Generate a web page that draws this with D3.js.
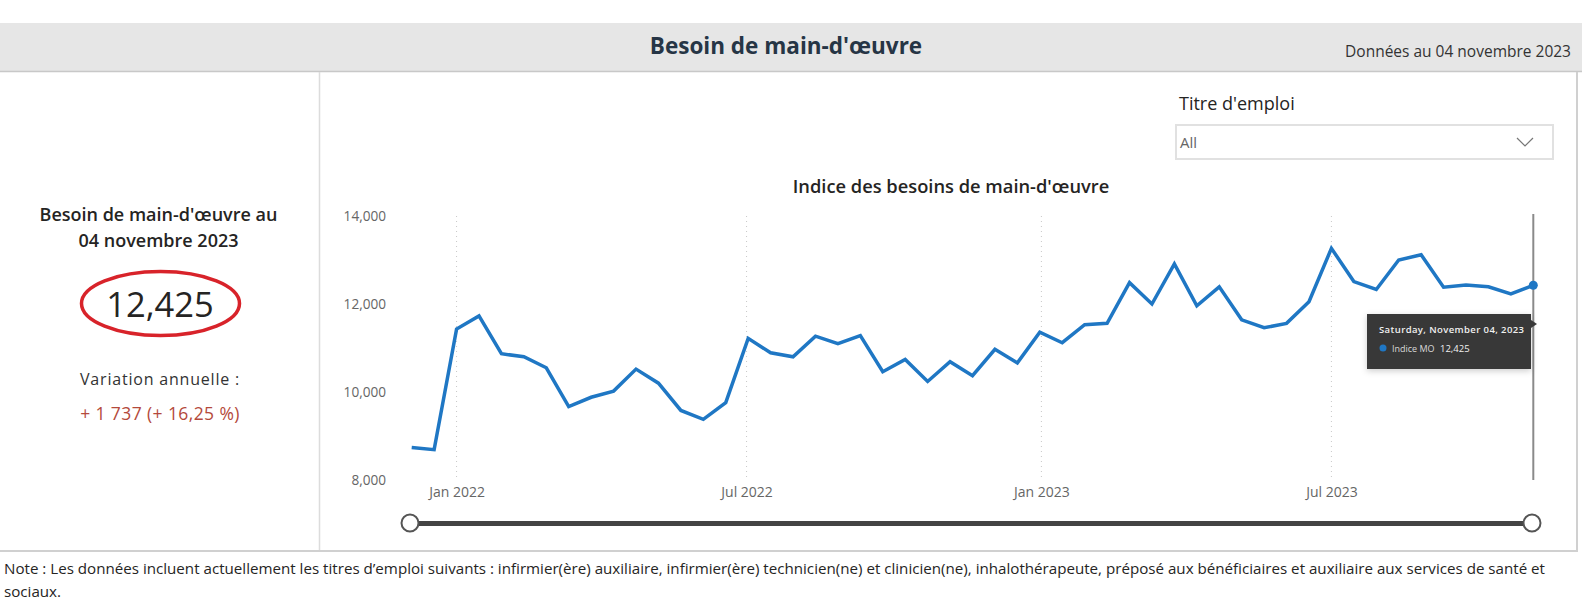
<!DOCTYPE html>
<html>
<head>
<meta charset="utf-8">
<script src="https://cdn.jsdelivr.net/npm/d3@7"></script>
<style>
  html, body { margin: 0; padding: 0; background: #fff; }
  svg { display: block; font-family: "Open Sans", "Noto Sans", sans-serif; }
</style>
</head>
<body>
<svg id="chart" width="1582" height="605"></svg>
<script>
// ---- data ----
const dates = [
  "2021-12-04","2021-12-18","2022-01-01","2022-01-15","2022-01-29","2022-02-12","2022-02-26",
  "2022-03-12","2022-03-26","2022-04-09","2022-04-23","2022-05-07","2022-05-21","2022-06-04",
  "2022-06-18","2022-07-02","2022-07-16","2022-07-30","2022-08-13","2022-08-27","2022-09-10",
  "2022-09-24","2022-10-08","2022-10-22","2022-11-05","2022-11-19","2022-12-03","2022-12-17",
  "2022-12-31","2023-01-14","2023-01-28","2023-02-11","2023-02-25","2023-03-11","2023-03-25",
  "2023-04-08","2023-04-22","2023-05-06","2023-05-20","2023-06-03","2023-06-17","2023-07-01",
  "2023-07-15","2023-07-29","2023-08-12","2023-08-26","2023-09-09","2023-09-23","2023-10-07",
  "2023-10-21","2023-11-04"
];
const indiceMO = [
  8740, 8690, 11430, 11730, 10870, 10800, 10550,
  9670, 9880, 10020, 10520, 10200, 9580, 9380,
  9760, 11220, 10890, 10800, 11270, 11100, 11280,
  10460, 10740, 10240, 10688, 10370, 10970, 10660,
  11360, 11120, 11530, 11560, 12485, 12000, 12910,
  11960, 12390, 11640, 11460, 11560, 12050, 13265,
  12510, 12330, 13000, 13120, 12380, 12430, 12390,
  12230, 12425
];
const yTicks = [8000, 10000, 12000, 14000];
const xTicks = ["2022-01-01", "2022-07-01", "2023-01-01", "2023-07-01"];
const xTickLabels = ["Jan 2022", "Jul 2022", "Jan 2023", "Jul 2023"];

const headerTitle = "Besoin de main-d'œuvre";
const headerDate = "Données au 04 novembre 2023";
const kpiTitle = ["Besoin de main-d'œuvre au", "04 novembre 2023"];
const kpiValue = "12,425";
const kpiVarLabel = "Variation annuelle :";
const kpiVar = "+ 1 737 (+ 16,25 %)";
const chartTitle = "Indice des besoins de main-d'œuvre";
const slicerTitle = "Titre d'emploi";
const slicerValue = "All";
const tooltipDate = "Saturday, November 04, 2023";
const tooltipSeries = "Indice MO";
const tooltipValue = "12,425";
const noteLines = [
  "Note : Les données incluent actuellement les titres d’emploi suivants : infirmier(ère) auxiliaire, infirmier(ère) technicien(ne) et clinicien(ne), inhalothérapeute, préposé aux bénéficiaires et auxiliaire aux services de santé et",
  "sociaux."
];

// ---- drawing ----
const parse = d3.timeParse("%Y-%m-%d");
const data = dates.map((d, i) => ({ date: parse(d), value: indiceMO[i] }));
const svg = d3.select("#chart");

// header band
svg.append("rect").attr("x", 0).attr("y", 23).attr("width", 1582).attr("height", 49).attr("fill", "#e6e6e6");
svg.append("line").attr("x1", 0).attr("x2", 1582).attr("y1", 71.5).attr("y2", 71.5).attr("stroke", "#c8c8c8").attr("stroke-width", 1.5);
svg.append("text").attr("x", 786).attr("y", 54).attr("text-anchor", "middle")
  .attr("font-size", 22.5).attr("font-weight", 700).attr("fill", "#263545").text(headerTitle);
svg.append("text").attr("x", 1571).attr("y", 57).attr("text-anchor", "end")
  .attr("font-size", 15.5).attr("fill", "#333").text(headerDate);

// panel borders
svg.append("line").attr("x1", 319.5).attr("x2", 319.5).attr("y1", 72).attr("y2", 551).attr("stroke", "#dcdcdc").attr("stroke-width", 1.5);
svg.append("line").attr("x1", 1577).attr("x2", 1577).attr("y1", 72).attr("y2", 551).attr("stroke", "#d0d0d0").attr("stroke-width", 2);
svg.append("line").attr("x1", 0).attr("x2", 1578).attr("y1", 551).attr("y2", 551).attr("stroke", "#d0d0d0").attr("stroke-width", 2);

// KPI panel
const kpi = svg.append("g");
kpi.append("text").attr("x", 158.5).attr("y", 221).attr("text-anchor", "middle").attr("font-size", 18)
  .attr("font-weight", 600).attr("fill", "#252423").text(kpiTitle[0]);
kpi.append("text").attr("x", 158.5).attr("y", 247).attr("text-anchor", "middle").attr("font-size", 18)
  .attr("font-weight", 600).attr("fill", "#252423").text(kpiTitle[1]);
kpi.append("text").attr("x", 160).attr("y", 317).attr("text-anchor", "middle").attr("font-size", 34.5)
  .attr("font-weight", 400).attr("fill", "#252423").text(kpiValue);
kpi.append("ellipse").attr("cx", 160.5).attr("cy", 303.5).attr("rx", 79).attr("ry", 32)
  .attr("fill", "none").attr("stroke", "#d8232a").attr("stroke-width", 3.5);
kpi.append("text").attr("x", 160).attr("y", 385).attr("text-anchor", "middle").attr("font-size", 16)
  .attr("letter-spacing", 0.8).attr("fill", "#333").text(kpiVarLabel);
kpi.append("text").attr("x", 160).attr("y", 420).attr("text-anchor", "middle").attr("font-size", 17.5)
  .attr("letter-spacing", 0.4).attr("fill", "#b4493b").text(kpiVar);

// slicer
svg.append("text").attr("x", 1179).attr("y", 110).attr("font-size", 18).attr("fill", "#252423").text(slicerTitle);
svg.append("rect").attr("x", 1176).attr("y", 125).attr("width", 377).attr("height", 34)
  .attr("fill", "#fff").attr("stroke", "#e1e1e1").attr("stroke-width", 2);
svg.append("text").attr("x", 1180).attr("y", 148).attr("font-size", 15).attr("fill", "#666").text(slicerValue);
svg.append("path").attr("d", "M1517,138 L1525,146 L1533,138").attr("fill", "none").attr("stroke", "#777").attr("stroke-width", 1.2);

// chart title
svg.append("text").attr("x", 951).attr("y", 193).attr("text-anchor", "middle").attr("font-size", 18.3)
  .attr("font-weight", 600).attr("fill", "#252423").text(chartTitle);

// scales
const x = d3.scaleTime().domain([data[0].date, data[data.length - 1].date]).range([411.7, 1533.3]);
const y = d3.scaleLinear().domain([8000, 14000]).range([480, 216]);

// gridlines (vertical dotted)
const g = svg.append("g");
g.selectAll(".vgrid").data(xTicks).join("line")
  .attr("x1", d => x(parse(d))).attr("x2", d => x(parse(d)))
  .attr("y1", 216).attr("y2", 480)
  .attr("stroke", "#c8c8c8").attr("stroke-width", 1).attr("stroke-dasharray", "1,4");

// y axis
const yAxis = d3.axisLeft(y).tickValues(yTicks).tickFormat(d3.format(",")).tickSize(0).tickPadding(0);
const yg = svg.append("g").attr("transform", "translate(386,0)").call(yAxis);
yg.select(".domain").remove();
yg.selectAll("text").attr("font-size", 13.6).attr("fill", "#666").attr("font-family", "Open Sans, sans-serif").attr("dy", "0.35em");

// x axis
const xAxis = d3.axisBottom(x).tickValues(xTicks.map(parse))
  .tickFormat((d, i) => xTickLabels[i]).tickSize(0).tickPadding(0);
const xg = svg.append("g").attr("transform", "translate(0,484)").call(xAxis);
xg.select(".domain").remove();
xg.selectAll("text").attr("font-size", 14).attr("fill", "#666").attr("font-family", "Open Sans, sans-serif").attr("dy", "0.9em");

// hover line
const last = data[data.length - 1];
svg.append("line").attr("x1", x(last.date)).attr("x2", x(last.date)).attr("y1", 214).attr("y2", 480)
  .attr("stroke", "#8a8a8a").attr("stroke-width", 2);

// series line
const line = d3.line().x(d => x(d.date)).y(d => y(d.value));
svg.append("path").datum(data).attr("d", line).attr("fill", "none")
  .attr("stroke", "#1f77c4").attr("stroke-width", 3.5).attr("stroke-linejoin", "miter");
svg.append("circle").attr("cx", x(last.date)).attr("cy", y(last.value)).attr("r", 4.5).attr("fill", "#1f77c4");

// tooltip
const defs = svg.append("defs");
const f = defs.append("filter").attr("id", "sh").attr("x", "-20%").attr("y", "-30%").attr("width", "140%").attr("height", "160%");
f.append("feDropShadow").attr("dx", 0).attr("dy", 2).attr("stdDeviation", 3).attr("flood-color", "#000").attr("flood-opacity", 0.2);
const tt = svg.append("g");
tt.append("rect").attr("x", 1367).attr("y", 314).attr("width", 164).attr("height", 55).attr("fill", "#383838").attr("filter", "url(#sh)");
tt.append("path").attr("d", "M1531,320 L1537,324 L1531,328 Z").attr("fill", "#383838");
tt.append("text").attr("x", 1379).attr("y", 333).attr("font-size", 9.5).attr("font-weight", 600)
  .attr("letter-spacing", 0.4).attr("fill", "#f0f0f0").text(tooltipDate);
tt.append("circle").attr("cx", 1383).attr("cy", 348).attr("r", 3.5).attr("fill", "#1f77c4");
tt.append("text").attr("x", 1392).attr("y", 351.5).attr("font-size", 9).attr("fill", "#d8d8d8").text(tooltipSeries);
tt.append("text").attr("x", 1440).attr("y", 351.5).attr("font-size", 9.5).attr("fill", "#f0f0f0").text(tooltipValue);

// slider
svg.append("line").attr("x1", 410).attr("x2", 1532).attr("y1", 523.5).attr("y2", 523.5).attr("stroke", "#444").attr("stroke-width", 5);
[410, 1532].forEach(cx => {
  svg.append("circle").attr("cx", cx).attr("cy", 523).attr("r", 8.5).attr("fill", "#fff").attr("stroke", "#555").attr("stroke-width", 2);
});

// note
noteLines.forEach((t, i) => {
  svg.append("text").attr("x", 4).attr("y", 574 + i * 23).attr("font-size", 15.15).attr("fill", "#252423").text(t);
});
</script>
</body>
</html>
